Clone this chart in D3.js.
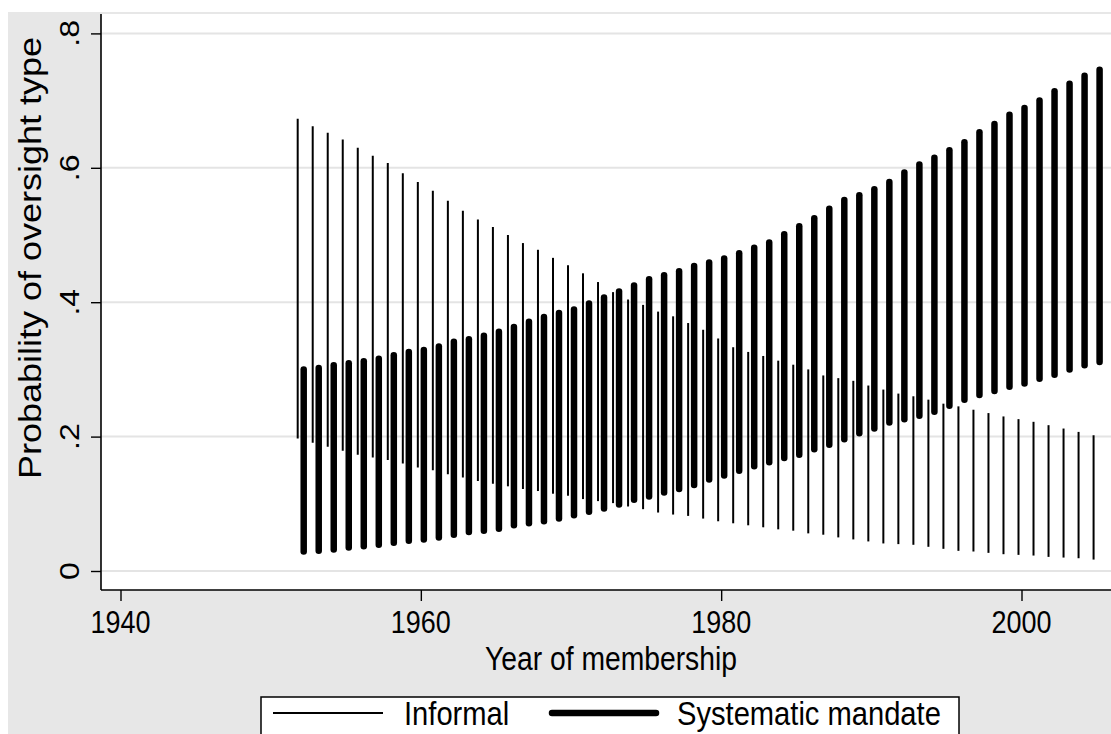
<!DOCTYPE html>
<html>
<head>
<meta charset="utf-8">
<script src="https://cdn.jsdelivr.net/npm/d3@7"></script>
<style>
  html, body { margin: 0; padding: 0; background: #ffffff; }
  svg { display: block; }
  text { font-family: "Liberation Sans", Arial, sans-serif; fill: #000; }
</style>
</head>
<body>
<svg id="chart" width="1111" height="734"></svg>
<script>
// Year of membership
const years = [1952,1953,1954,1955,1956,1957,1958,1959,1960,1961,1962,1963,1964,1965,1966,1967,1968,1969,
  1970,1971,1972,1973,1974,1975,1976,1977,1978,1979,1980,1981,1982,1983,1984,1985,1986,1987,1988,1989,
  1990,1991,1992,1993,1994,1995,1996,1997,1998,1999,2000,2001,2002,2003,2004,2005];

// Informal oversight: upper / lower bound of predicted probability
const informalHi = [0.673,0.662,0.652,0.642,0.630,0.618,0.607,0.592,0.579,0.566,0.551,0.536,0.523,0.512,
  0.500,0.488,0.478,0.466,0.455,0.443,0.430,0.415,0.404,0.396,0.386,0.379,0.369,0.359,0.346,0.333,0.326,
  0.320,0.313,0.307,0.300,0.291,0.287,0.283,0.276,0.270,0.264,0.260,0.255,0.249,0.245,0.240,0.235,0.230,
  0.226,0.222,0.217,0.212,0.207,0.202];
const informalLo = [0.197,0.191,0.185,0.179,0.173,0.169,0.165,0.160,0.154,0.150,0.144,0.139,0.134,0.130,
  0.126,0.122,0.119,0.115,0.112,0.107,0.104,0.101,0.096,0.092,0.087,0.084,0.082,0.078,0.074,0.071,0.068,
  0.065,0.062,0.060,0.056,0.054,0.050,0.047,0.044,0.041,0.040,0.039,0.036,0.033,0.030,0.029,0.027,0.025,
  0.024,0.023,0.021,0.020,0.019,0.017];

// Systematic mandate: upper / lower bound of predicted probability
const systematicHi = [0.300,0.302,0.306,0.309,0.312,0.316,0.321,0.326,0.329,0.334,0.341,0.345,0.350,0.356,
  0.363,0.371,0.378,0.384,0.389,0.398,0.407,0.416,0.425,0.434,0.440,0.446,0.454,0.459,0.465,0.473,0.481,
  0.489,0.501,0.513,0.525,0.539,0.552,0.559,0.568,0.579,0.593,0.605,0.615,0.626,0.638,0.653,0.665,0.679,
  0.689,0.700,0.714,0.725,0.737,0.746];
const systematicLo = [0.029,0.030,0.032,0.035,0.037,0.039,0.042,0.045,0.047,0.050,0.054,0.058,0.060,0.063,
  0.068,0.071,0.074,0.078,0.083,0.088,0.093,0.099,0.106,0.111,0.117,0.122,0.128,0.136,0.142,0.149,0.156,
  0.162,0.168,0.173,0.181,0.188,0.196,0.205,0.212,0.221,0.226,0.231,0.237,0.246,0.255,0.262,0.268,0.274,
  0.279,0.286,0.292,0.300,0.306,0.311];

const xTicks = [1940, 1960, 1980, 2000];
const yTicks = [0, 0.2, 0.4, 0.6, 0.8];
const yTickLabels = ["0", ".2", ".4", ".6", ".8"];
const seriesNames = ["Informal", "Systematic mandate"];

const svg = d3.select("#chart");
const W = 1111, H = 734;
const plot = { left: 101, right: 1125, top: 14, bottom: 590 };
const squeeze = 0.87; // horizontal text compression

const x = d3.scaleLinear().domain([1940, 2000]).range([120.5, 1021.5]);
const y = d3.scaleLinear().domain([0, 0.8]).range([571, 33.4]);

// graph region (grey) and plot region (white)
svg.append("rect").attr("x", 8).attr("y", 12).attr("width", W).attr("height", H)
  .attr("fill", "#e7e7e7");
svg.append("rect").attr("x", plot.left).attr("y", plot.top)
  .attr("width", plot.right - plot.left).attr("height", plot.bottom - plot.top)
  .attr("fill", "#ffffff");

// horizontal grid lines
svg.append("g").selectAll("line").data(yTicks).join("line")
  .attr("x1", plot.left).attr("x2", plot.right)
  .attr("y1", d => y(d)).attr("y2", d => y(d))
  .attr("stroke", "#e4e4e4").attr("stroke-width", 2);

// Informal range spikes (offset left of the year)
svg.append("g").selectAll("line").data(years).join("line")
  .attr("x1", (d) => x(d - 0.2)).attr("x2", (d) => x(d - 0.2))
  .attr("y1", (d, i) => y(informalHi[i])).attr("y2", (d, i) => y(informalLo[i]))
  .attr("stroke", "#000").attr("stroke-width", 2);

// Systematic mandate range spikes (offset right of the year)
svg.append("g").selectAll("line").data(years).join("line")
  .attr("x1", (d) => x(d + 0.2)).attr("x2", (d) => x(d + 0.2))
  .attr("y1", (d, i) => y(systematicHi[i])).attr("y2", (d, i) => y(systematicLo[i]))
  .attr("stroke", "#000").attr("stroke-width", 6.5).attr("stroke-linecap", "round");

// axes
const xAxis = svg.append("g").attr("transform", `translate(0,${plot.bottom})`)
  .call(d3.axisBottom(x).tickValues(xTicks).tickSize(11).tickSizeOuter(0).tickFormat(""));
xAxis.select(".domain").attr("d", `M${plot.left},0H${plot.right}`);
const yAxis = svg.append("g").attr("transform", `translate(${plot.left},0)`)
  .call(d3.axisLeft(y).tickValues(yTicks).tickSize(10).tickSizeOuter(0).tickFormat(""));
yAxis.select(".domain").attr("d", `M0,${plot.top}V${plot.bottom}`);
svg.selectAll(".domain").attr("stroke", "#000").attr("stroke-width", 1.6);
svg.selectAll(".tick line").attr("stroke", "#000").attr("stroke-width", 1.4);

// x tick labels
svg.append("g").selectAll("g").data(xTicks).join("g")
  .attr("transform", d => `translate(${x(d)},633) scale(${squeeze},1)`)
  .append("text").attr("text-anchor", "middle").attr("font-size", 31).text(d => d);

// y tick labels (rotated)
svg.append("g").selectAll("g").data(yTicks).join("g")
  .attr("transform", d => `translate(79,${y(d)}) scale(${squeeze},1) rotate(-90)`)
  .append("text").attr("text-anchor", "middle").attr("font-size", 32)
  .text((d, i) => yTickLabels[i]);

// axis titles
svg.append("g").attr("transform", `translate(611,670) scale(${squeeze},1)`)
  .append("text").attr("text-anchor", "middle").attr("font-size", 32.5).text("Year of membership");
svg.append("g").attr("transform", `translate(41,258) scale(${squeeze},1) rotate(-90)`)
  .append("text").attr("text-anchor", "middle").attr("font-size", 36).text("Probability of oversight type");

// legend
const lg = svg.append("g");
lg.append("rect").attr("x", 261).attr("y", 697).attr("width", 698).attr("height", 60)
  .attr("fill", "#fff").attr("stroke", "#000").attr("stroke-width", 1.5);
lg.append("line").attr("x1", 273).attr("x2", 383).attr("y1", 713).attr("y2", 713)
  .attr("stroke", "#000").attr("stroke-width", 2);
lg.append("line").attr("x1", 552).attr("x2", 656).attr("y1", 713).attr("y2", 713)
  .attr("stroke", "#000").attr("stroke-width", 6.5).attr("stroke-linecap", "round");
lg.append("g").attr("transform", `translate(404,725) scale(${squeeze},1)`)
  .append("text").attr("font-size", 33.5).text(seriesNames[0]);
lg.append("g").attr("transform", `translate(677,725) scale(${squeeze},1)`)
  .append("text").attr("font-size", 33.5).text(seriesNames[1]);
</script>
</body>
</html>
